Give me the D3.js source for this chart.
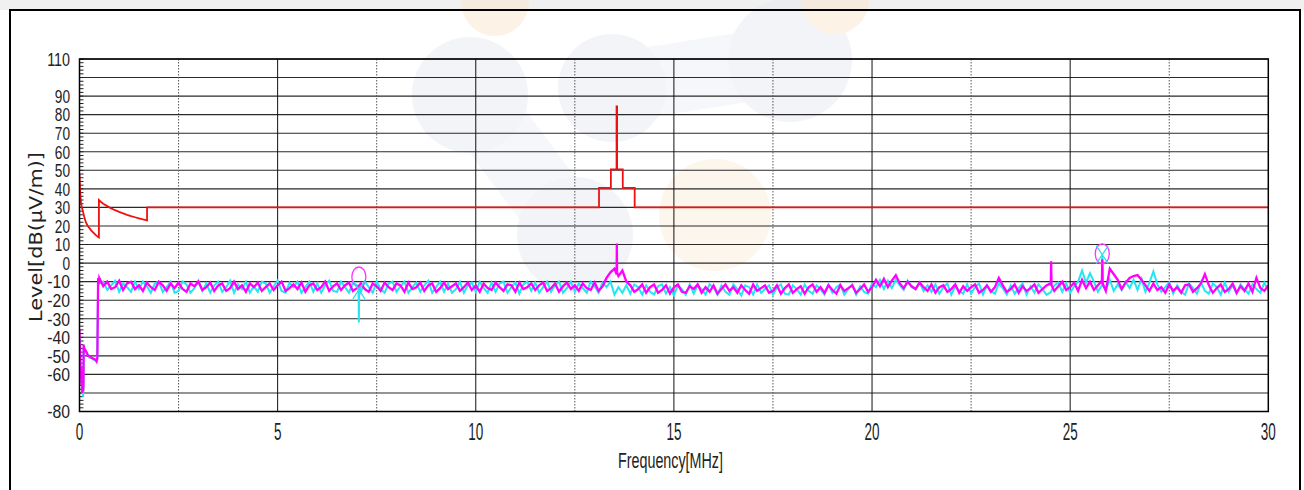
<!DOCTYPE html>
<html>
<head>
<meta charset="utf-8">
<script src="https://cdn.jsdelivr.net/npm/d3@7"></script>
<style>
body { margin: 0; background: #fff; }
svg { display: block; }
</style>
</head>
<body>
<svg id="chart" width="1304" height="490"></svg>
<script>
// axis ticks
var xTicks = [0, 5, 10, 15, 20, 25, 30];
var xDotted = [2.5, 7.5, 12.5, 17.5, 22.5, 27.5];
var yTicks = [110, 90, 80, 70, 60, 50, 40, 30, 20, 10, 0, -10, -20, -30, -40, -50, -60, -80];
var yGrid = [110, 100, 90, 80, 70, 60, 50, 40, 30, 20, 10, 0, -10, -20, -30, -40, -50, -60, -70, -80];

// limit line (red)
var limitFreq = [0, 0.01, 0.02, 0.04, 0.06, 0.085, 0.12, 0.16, 0.21, 0.3, 0.4, 0.47, 0.49,
	0.49, 0.55, 0.6, 0.7, 0.8, 0.9, 1.0, 1.1, 1.2, 1.3, 1.4, 1.5, 1.6, 1.705,
	1.705, 13.11, 13.11, 13.41, 13.41, 13.553, 13.553, 13.567, 13.567, 13.71, 13.71, 14.01, 14.01, 30];
var limitLevel = [48, 42, 37, 32, 30, 28, 25, 22, 20, 17.5, 15.3, 14, 13.8,
	34, 32.8, 32, 30.7, 29.5, 28.5, 27.6, 26.8, 26, 25.3, 24.7, 24.1, 23.5, 23,
	30, 30, 40.5, 40.5, 50.5, 50.5, 84.5, 84.5, 50.5, 50.5, 40.5, 40.5, 30, 30];

// measured traces below 0.5 MHz
var magentaLowFreq = [0, 0.005, 0.01, 0.015, 0.02, 0.03, 0.04, 0.05, 0.06, 0.07, 0.08, 0.09, 0.1, 0.105, 0.12, 0.15, 0.18, 0.21, 0.25, 0.3, 0.35, 0.4, 0.43, 0.45, 0.47, 0.49];
var magentaLowLevel = [-36, -52, -44, -58, -50, -62, -56, -66, -60, -70, -64, -69, -66, -44, -46, -47, -48, -50, -50, -51, -51.5, -52, -53, -51, -8, -11];
var cyanLowFreq = [0, 0.01, 0.02, 0.03, 0.05, 0.07, 0.09, 0.1, 0.105, 0.15, 0.2, 0.25, 0.3, 0.35, 0.4, 0.45, 0.47, 0.49];
var cyanLowLevel = [-40, -50, -56, -60, -64, -68, -72, -68, -45, -48, -49, -51, -51, -52, -52.5, -52, -9, -10];

// measured traces 0.5 .. 30 MHz, one value every 0.1 MHz
var sweepStart = 0.5, sweepStep = 0.1;
var magentaSweep = [
	-8, -12.5, -10, -14, -13, -9.5, -14.5, -11, -10, -14,
	-12, -15, -10.5, -13, -14.5, -10, -12, -15, -11, -13.5,
	-10.5, -14, -15.5, -11, -12.5, -10, -14.5, -13, -10.5, -15,
	-12, -11, -15, -13.5, -10, -14, -12, -15.5, -11, -13,
	-10.5, -15, -13, -11, -14.5, -12, -10, -15, -13.5, -11.5,
	-14, -10.5, -15.5, -12, -11, -14.5, -13, -10, -15, -12.5,
	-11, -14.5, -12, -10.5, -15, -13.5, -11, -14, -15.5, -11,
	-12.5, -15, -10.5, -13, -14.5, -11, -12, -15.5, -10.5, -14,
	-13, -10.5, -15, -12, -11, -15.5, -13.5, -10.5, -14, -12.5,
	-11, -15, -13, -10.5, -14.5, -12, -15.5, -11, -13.5, -14.5,
	-10.5, -13, -15, -11.5, -12, -15.5, -10.5, -14, -13, -11,
	-14.5, -12, -10.5, -15, -13.5, -11, -15.5, -12.5, -10.5, -14,
	-12, -15, -11, -13.5, -14.5, -10.5, -15, -12.5, -8, -5,
	-3, -7, -4, -10, -12, -15.5, -14, -11.5, -16, -13,
	-11.5, -16, -14.5, -12, -16.5, -13, -11.5, -15.5, -16, -12.5,
	-14, -11.5, -16, -13, -15.5, -12, -16.5, -14, -11.5, -15,
	-13, -16, -12, -14.5, -16.5, -11.5, -15, -13.5, -12, -16,
	-15, -12, -16.5, -13.5, -11.5, -16, -14, -12.5, -16.5, -13,
	-11.5, -15.5, -13, -16, -12, -14.5, -16.5, -12, -15, -13.5,
	-12, -16, -14, -11.5, -15.5, -13, -9, -12.5, -8.5, -13,
	-9.5, -6.5, -11, -13.5, -10, -12.5, -14, -10.5, -13, -15,
	-11.5, -16, -13, -12, -15.5, -14, -11.5, -16, -12.5, -15,
	-13, -11.5, -16, -14.5, -12, -15.5, -13, -8, -12, -15.5,
	-14, -11.5, -16, -12.5, -15, -13.5, -11.5, -16, -14, -12,
	-11, -15, -12.5, -10, -14.5, -13, -10.5, -15, -9, -13.5,
	-10, -14.5, -12, -9.5, -15, -3, -6, -9, -14, -10.5,
	-8, -7, -6.5, -9, -12, -15, -11, -14.5, -13, -16,
	-11.5, -15, -13, -16, -12, -11.5, -15.5, -13.5, -11, -6,
	-12, -16, -13.5, -11.5, -15.5, -14, -11, -16, -12.5, -15,
	-11, -15.5, -8, -13.5, -15, -12];
var cyanSweep = [
	-11, -10, -14.5, -12, -9.5, -15.5, -11, -13, -15.5, -10,
	-14, -10, -12.5, -16, -11, -10, -15.5, -13, -10, -16,
	-15, -10, -11.5, -16, -13.5, -9.5, -15, -11, -16, -12,
	-10, -15.5, -13, -9.5, -16, -11.5, -14, -10, -16, -12.5,
	-15.5, -10, -11, -16, -12.5, -9.5, -15, -16, -10.5, -13,
	-10, -16, -13, -10, -15.5, -11, -16, -12, -9.5, -15,
	-15.5, -10, -13, -16, -10.5, -12, -15.5, -10, -13, -16,
	-10, -14, -16, -11, -10, -15.5, -12.5, -10, -16, -13,
	-10.5, -15.5, -12, -9.5, -16, -13, -10, -15.5, -11, -16,
	-14, -10, -16, -12, -10.5, -15.5, -10, -13.5, -16, -10.5,
	-15.5, -11, -10, -16, -13, -10.5, -16.5, -11.5, -10, -15,
	-10.5, -16, -13, -10, -15.5, -12, -10, -16, -13.5, -10,
	-15.5, -11, -13.5, -16, -10, -12.5, -16, -10.5, -13, -10,
	-17, -13, -16, -12, -16.5, -11.5, -13, -17, -12, -15.5,
	-17, -12.5, -11.5, -16.5, -13, -17.5, -12, -14, -17, -11.5,
	-16.5, -12, -14, -17, -11.5, -13, -17, -12, -15.5, -17,
	-11.5, -14, -17.5, -12, -13, -17, -11.5, -16, -14, -12,
	-17, -13, -11.5, -16.5, -17, -12, -14, -17, -11.5, -15,
	-16.5, -12, -14, -17, -11.5, -16, -13, -11.5, -17, -14,
	-11.5, -17, -12.5, -15.5, -16.5, -11, -13, -9, -14, -9.5,
	-13.5, -9, -12, -14.5, -9.5, -13, -14, -10.5, -15, -12,
	-15.5, -11.5, -16.5, -13, -11, -17, -12.5, -15, -16.5, -11.5,
	-16.5, -13, -11, -17, -12, -15, -16.5, -11, -13.5, -17,
	-12, -16.5, -13.5, -11, -17, -12.5, -16, -11.5, -14, -17,
	-16, -12, -10.5, -15.5, -11, -16, -12.5, -10, -4, -10.5,
	-5.5, -10, -15.5, -12, -14.5, -9, -15, -11.5, -14.5, -10,
	-13.5, -9, -14.5, -8.5, -15.5, -10.5, -4.5, -11.5, -15.5, -13,
	-10.5, -16.5, -12, -15.5, -17, -11, -13.5, -16.5, -10.5, -15,
	-16.5, -11, -13, -17, -10.5, -15.5, -12, -16.5, -11.5, -14,
	-16.5, -11.5, -14, -16, -10.5, -15];

// narrow spikes between sweep points [MHz, dB]
var magentaSpikes = [[13.555, -6], [13.56, 10.5], [13.565, -5], [24.51, -12], [24.52, 1], [24.53, -12], [25.8, -11], [25.81, 2], [25.82, -11]];
var cyanSpikes = [[7.04, -13], [7.05, -32], [7.06, -13], [25.8, -12], [25.81, 4], [25.82, -12]];

// markers
var circleFreq = [7.05, 25.81];
var circleLevel = [-7.5, 5];
var crossFreq = [7.05, 25.81];
var crossLevel = [-14.5, 4.5];

var svg = d3.select("#chart");
var plotL = 79.5, plotR = 1268.3, plotT = 59, plotB = 411.5;

var x = d3.scaleLinear().domain([0, 30]).range([plotL, plotR]);
var y = d3.scaleLinear().domain([-80, 110]).range([plotB, plotT]);

// builds one trace from the low band points, the sweep and the spikes
function buildTrace(lowF, lowL, sweep, spikes) {
	var pts = lowF.map(function(f, i) { return {f: f, v: lowL[i]}; });
	sweep.forEach(function(v, i) {
		pts.push({f: +(sweepStart + i * sweepStep).toFixed(2), v: v});
	});
	spikes.forEach(function(s) { pts.push({f: s[0], v: s[1]}); });
	return pts.sort(function(a, b) { return a.f - b.f; });
}
var magenta = buildTrace(magentaLowFreq, magentaLowLevel, magentaSweep, magentaSpikes);
var cyan = buildTrace(cyanLowFreq, cyanLowLevel, cyanSweep, cyanSpikes);
var limit = limitFreq.map(function(f, i) { return {f: f, v: limitLevel[i]}; });

// page frame: grey strip on top
svg.append("rect").attr("x", 0).attr("y", 0).attr("width", 1304).attr("height", 10).attr("fill", "#f0f0f0");

// faint watermark behind the plot
var wm = svg.append("g").attr("opacity", 0.45);
wm.append("path").attr("d", "M470,95 L575,235").attr("stroke", "#eceef5").attr("stroke-width", 70).attr("stroke-linecap", "round");
wm.append("path").attr("d", "M612,88 L790,60").attr("stroke", "#eceef5").attr("stroke-width", 70).attr("stroke-linecap", "round");
wm.append("circle").attr("cx", 470).attr("cy", 95).attr("r", 58).attr("fill", "#e6e8f1");
wm.append("circle").attr("cx", 612).attr("cy", 88).attr("r", 54).attr("fill", "#e6e8f1");
wm.append("circle").attr("cx", 575).attr("cy", 235).attr("r", 58).attr("fill", "#e6e8f1");
wm.append("circle").attr("cx", 790).attr("cy", 60).attr("r", 62).attr("fill", "#e6e8f1");
wm.append("circle").attr("cx", 715).attr("cy", 215).attr("r", 56).attr("fill", "#fcecd8");
wm.append("circle").attr("cx", 495).attr("cy", 2).attr("r", 34).attr("fill", "#fbe3c8");
wm.append("circle").attr("cx", 835).attr("cy", 0).attr("r", 34).attr("fill", "#fbe3c8");

// black page border
svg.append("path").attr("d", "M10,491 L10,10 L1300,10 L1300,491")
	.attr("fill", "none").attr("stroke", "#000").attr("stroke-width", 2);

// gridlines
var grid = svg.append("g");
grid.selectAll(".hgrid").data(yGrid).enter().append("line")
	.attr("x1", plotL).attr("x2", plotR)
	.attr("y1", function(d) { return y(d); }).attr("y2", function(d) { return y(d); })
	.attr("stroke", "#2a2a2a").attr("stroke-width", 1.1);
grid.selectAll(".vgrid").data(xTicks.slice(1, -1)).enter().append("line")
	.attr("x1", function(d) { return x(d); }).attr("x2", function(d) { return x(d); })
	.attr("y1", plotT).attr("y2", plotB)
	.attr("stroke", "#111").attr("stroke-width", 1);
grid.selectAll(".dgrid").data(xDotted).enter().append("line")
	.attr("x1", function(d) { return x(d); }).attr("x2", function(d) { return x(d); })
	.attr("y1", plotT).attr("y2", plotB)
	.attr("stroke", "#555").attr("stroke-width", 1).attr("stroke-dasharray", "1.5,1.5");

// minor ticks every 2 dB on the left edge
grid.selectAll(".minor").data(d3.range(-80, 111, 2)).enter().append("line")
	.attr("x1", plotL).attr("x2", plotL + 4)
	.attr("y1", function(d) { return y(d); }).attr("y2", function(d) { return y(d); })
	.attr("stroke", "#222").attr("stroke-width", 1);

svg.append("clipPath").attr("id", "plotClip").append("rect")
	.attr("x", plotL).attr("y", plotT).attr("width", plotR - plotL).attr("height", plotB - plotT);

var line = d3.line().x(function(d) { return x(d.f); }).y(function(d) { return y(d.v); });
var plot = svg.append("g").attr("clip-path", "url(#plotClip)");

plot.append("path").datum(cyan).attr("d", line)
	.attr("fill", "none").attr("stroke", "#22e6f2").attr("stroke-width", 2);
plot.append("path").datum(magenta).attr("d", line)
	.attr("fill", "none").attr("stroke", "#ff00ff").attr("stroke-width", 2.3);
plot.append("path").datum(limit).attr("d", line)
	.attr("fill", "none").attr("stroke", "#ee1111").attr("stroke-width", 1.8);

// markers: magenta circles and cyan crosses
plot.selectAll(".circ").data(circleFreq).enter().append("ellipse")
	.attr("cx", function(d) { return x(d); })
	.attr("cy", function(d, i) { return y(circleLevel[i]); })
	.attr("rx", 7).attr("ry", 10)
	.attr("fill", "none").attr("stroke", "#ff33ff").attr("stroke-width", 1.3);
plot.selectAll(".cross").data(crossFreq).enter().append("path")
	.attr("d", function(d, i) {
		var cx = x(d), cy = y(crossLevel[i]);
		return "M" + (cx - 6) + "," + (cy - 9) + "L" + (cx + 6) + "," + (cy + 9) +
			"M" + (cx + 6) + "," + (cy - 9) + "L" + (cx - 6) + "," + (cy + 9);
	})
	.attr("fill", "none").attr("stroke", "#33ddf0").attr("stroke-width", 1.3);

// plot frame
svg.append("rect").attr("x", plotL).attr("y", plotT).attr("width", plotR - plotL).attr("height", plotB - plotT)
	.attr("fill", "none").attr("stroke", "#000").attr("stroke-width", 1.5);

var font = "'Liberation Sans Narrow', 'Liberation Sans', Arial, sans-serif";

// y tick labels
svg.append("g").selectAll("text").data(yTicks).enter().append("text")
	.attr("x", 70).attr("y", function(d) { return y(d); }).attr("dy", "0.36em")
	.attr("text-anchor", "end")
	.attr("textLength", function(d) { return String(d).length * 7.6; })
	.attr("lengthAdjust", "spacingAndGlyphs")
	.style("font-family", font).style("font-size", "19px").attr("fill", "#222")
	.text(function(d) { return d; });

// x tick labels
svg.append("g").selectAll("text").data(xTicks).enter().append("text")
	.attr("x", function(d) { return x(d); }).attr("y", 440)
	.attr("text-anchor", "middle")
	.attr("textLength", function(d) { return String(d).length * 7.5; })
	.attr("lengthAdjust", "spacingAndGlyphs")
	.style("font-family", font).style("font-size", "23px").attr("fill", "#222")
	.text(function(d) { return d; });

// axis titles
svg.append("text").attr("x", 670.5).attr("y", 468).attr("text-anchor", "middle")
	.attr("textLength", 105).attr("lengthAdjust", "spacingAndGlyphs")
	.style("font-family", font).style("font-size", "22px").attr("fill", "#222")
	.text("Frequency[MHz]");
svg.append("text").attr("transform", "translate(42,237) rotate(-90)").attr("text-anchor", "middle")
	.attr("textLength", 170).attr("lengthAdjust", "spacingAndGlyphs")
	.style("font-family", "'DejaVu Sans', sans-serif").style("font-size", "17px").attr("fill", "#222")
	.text("Level[dB(μV/m)]");
</script>
</body>
</html>
